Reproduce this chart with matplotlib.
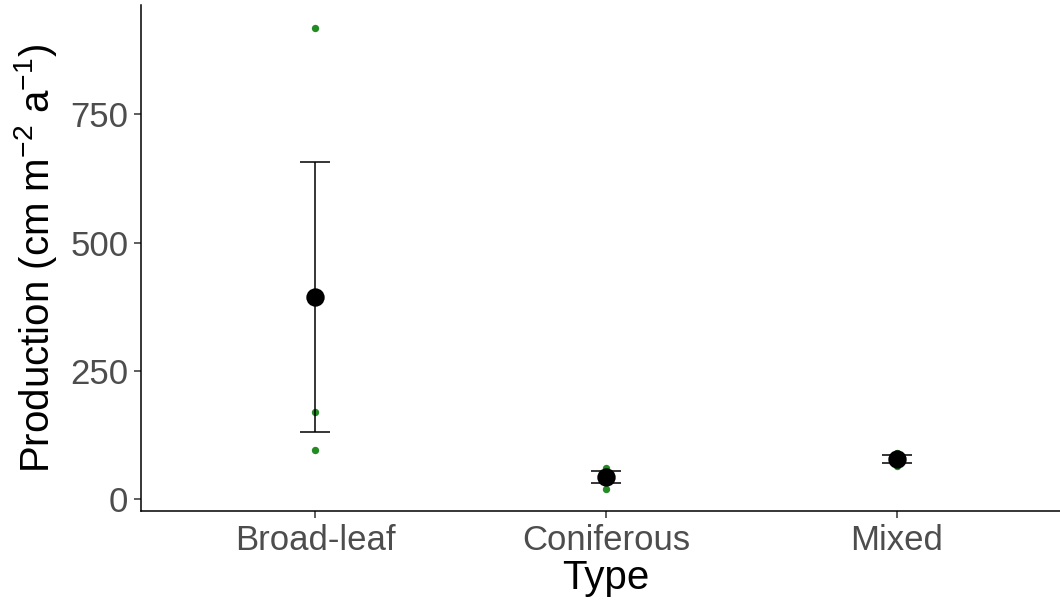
import numpy as np
import matplotlib.pyplot as plt

plt.rcParams['font.family'] = ['Liberation Sans', 'DejaVu Sans']
plt.rcParams['mathtext.fontset'] = 'custom'
plt.rcParams['mathtext.rm'] = 'Liberation Sans'
plt.rcParams['mathtext.default'] = 'regular'

# 원자료
types = ['Broad-leaf', 'Coniferous', 'Mixed']
broadleaf = [918, 170, 95]
coniferous = [19, 50, 60]
mixed = [64, 79, 90]
groups = [broadleaf, coniferous, mixed]
y_ticks = [0, 250, 500, 750]

# 평균과 표준오차
means = [np.mean(g) for g in groups]
ses = [np.std(g, ddof=1) / np.sqrt(len(g)) for g in groups]

fig = plt.figure(figsize=(10.6, 6), dpi=100)
ax = fig.add_axes([141 / 1060, 89 / 600, 930 / 1060, 506 / 600])

for i, g in enumerate(groups):
    ax.scatter([i] * len(g), g, s=28, color='#228B22', zorder=2, linewidths=0)

ax.errorbar(range(len(types)), means, yerr=ses, fmt='none', ecolor='black',
            elinewidth=1.1, capsize=11, capthick=1.1, zorder=3)
ax.scatter(range(len(types)), means, s=175, color='black', zorder=4, linewidths=0)

allv = np.concatenate(groups)
rng = allv.max() - allv.min()
ax.set_ylim(allv.min() - 0.047 * rng, allv.max() + 0.05 * rng)
ax.set_xlim(-0.6, 2.6)
ax.set_xticks(range(len(types)))
ax.set_xticklabels(types)
ax.set_yticks(y_ticks)

ax.spines['top'].set_visible(False)
ax.spines['right'].set_visible(False)
for s in ['left', 'bottom']:
    ax.spines[s].set_linewidth(1.1)
    ax.spines[s].set_color('black')
ax.tick_params(axis='both', labelsize=25, colors='#333333', labelcolor='#4D4D4D',
               length=5, width=1.1, pad=4)

ax.set_xlabel('Type', fontsize=29, labelpad=2)
ax.set_ylabel('Production (cm m$^{-2}$ a$^{-1}$)', fontsize=29, labelpad=8)

plt.savefig('out.png', dpi=100)
